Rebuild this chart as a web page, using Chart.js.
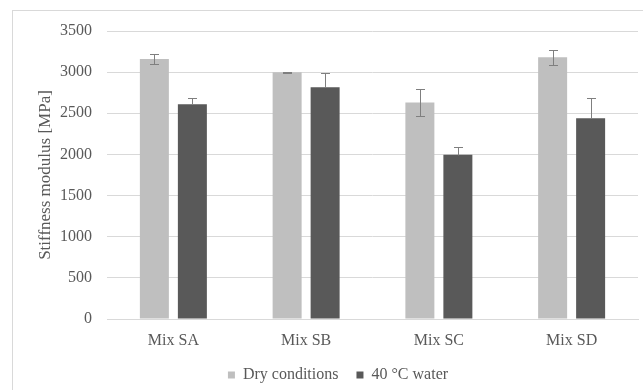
<!DOCTYPE html>
<html>
<head>
<meta charset="utf-8">
<script src="https://cdn.jsdelivr.net/npm/chart.js@4"></script>
<style>
  html, body { margin: 0; padding: 0; background: #fff; }
  #chart { display: block; }
</style>
</head>
<body>
<canvas id="chart" width="643" height="390"></canvas>
<script>
const categories = ["Mix SA", "Mix SB", "Mix SC", "Mix SD"];
const dryValues = [3160, 3000, 2630, 3180];
const dryErrors = [55, 5, 160, 90];
const waterValues = [2610, 2815, 1995, 2440];
const waterErrors = [70, 180, 90, 240];
const seriesNames = ["Dry conditions", "40 °C water"];

const serif = "'Liberation Serif', 'Times New Roman', serif";
const textColor = "#595959";
const gridColor = "#d9d9d9";

/* ===== PLUGINS ===== */

// outer chart border (right and bottom edges fall outside the picture)
const frame = {
  id: "frame",
  beforeDraw(chart) {
    const ctx = chart.ctx;
    ctx.save();
    ctx.strokeStyle = gridColor;
    ctx.lineWidth = 1;
    ctx.strokeRect(12.5, 10.5, 700, 500);
    ctx.restore();
  }
};

// legend height fixed, nudged right and up
const legendFix = {
  id: "legendFix",
  beforeInit(chart) {
    const lg = chart.legend;
    const origFit = lg.fit;
    lg.fit = function () {
      origFit.call(this);
      this.height = 31;
    };
  },
  afterLayout(chart) {
    const lg = chart.legend;
    lg.left += 19;
    lg.right += 19;
    lg.top -= 10;
  }
};

const errorBars = {
  id: "errorBars",
  afterDatasetsDraw(chart) {
    const ctx = chart.ctx;
    const y = chart.scales.y;
    const sets = [
      { values: dryValues, errors: dryErrors, both: true },
      { values: waterValues, errors: waterErrors, both: false }
    ];
    ctx.save();
    ctx.strokeStyle = "#7f7f7f";
    ctx.lineWidth = 1;
    sets.forEach((s, i) => {
      const meta = chart.getDatasetMeta(i);
      meta.data.forEach((bar, j) => {
        const x = Math.round(bar.x) + 0.5;
        const top = Math.round(y.getPixelForValue(s.values[j] + s.errors[j])) + 0.5;
        const bottom = Math.round(y.getPixelForValue(s.both ? s.values[j] - s.errors[j] : s.values[j])) + 0.5;
        ctx.beginPath();
        ctx.moveTo(x, top);
        ctx.lineTo(x, bottom);
        ctx.moveTo(x - 4.5, top);
        ctx.lineTo(x + 4.5, top);
        if (s.both) {
          ctx.moveTo(x - 4.5, bottom);
          ctx.lineTo(x + 4.5, bottom);
        }
        ctx.stroke();
      });
    });
    ctx.restore();
  }
};

/* ===== CHART ===== */

const ctx = document.getElementById("chart").getContext("2d");

new Chart(ctx, {
  type: "bar",
  data: {
    labels: categories,
    datasets: [{
      label: seriesNames[0],
      data: dryValues,
      backgroundColor: "#bfbfbf"
    }, {
      label: seriesNames[1],
      data: waterValues,
      backgroundColor: "#595959"
    }]
  },
  options: {
    responsive: false,
    animation: false,
    devicePixelRatio: 1,
    categoryPercentage: 0.5725,
    barPercentage: 0.763,
    layout: {
      padding: { top: 31, right: 5, bottom: 0, left: 0 }
    },
    plugins: {
      tooltip: { enabled: false },
      legend: {
        position: "bottom",
        labels: {
          boxWidth: 7,
          boxHeight: 7,
          padding: 18,
          color: textColor,
          font: { family: serif, size: 16 }
        }
      }
    },
    scales: {
      x: {
        grid: { display: false },
        border: { display: true, color: gridColor },
        ticks: {
          color: textColor,
          padding: 4,
          font: { family: serif, size: 16 }
        },
        afterFit(scale) { scale.height = 40; }
      },
      y: {
        min: 0,
        max: 3500,
        ticks: {
          stepSize: 500,
          color: textColor,
          padding: 15,
          font: { family: serif, size: 16 },
          callback: (v) => String(v)
        },
        grid: { color: gridColor, drawTicks: false },
        border: { display: false },
        title: {
          display: true,
          text: "Stiffness modulus [MPa]",
          color: textColor,
          padding: { top: 35, bottom: 0 },
          font: { family: serif, size: 17 }
        },
        afterFit(scale) { scale.width = 107; }
      }
    }
  },
  plugins: [frame, legendFix, errorBars]
});
</script>
</body>
</html>
